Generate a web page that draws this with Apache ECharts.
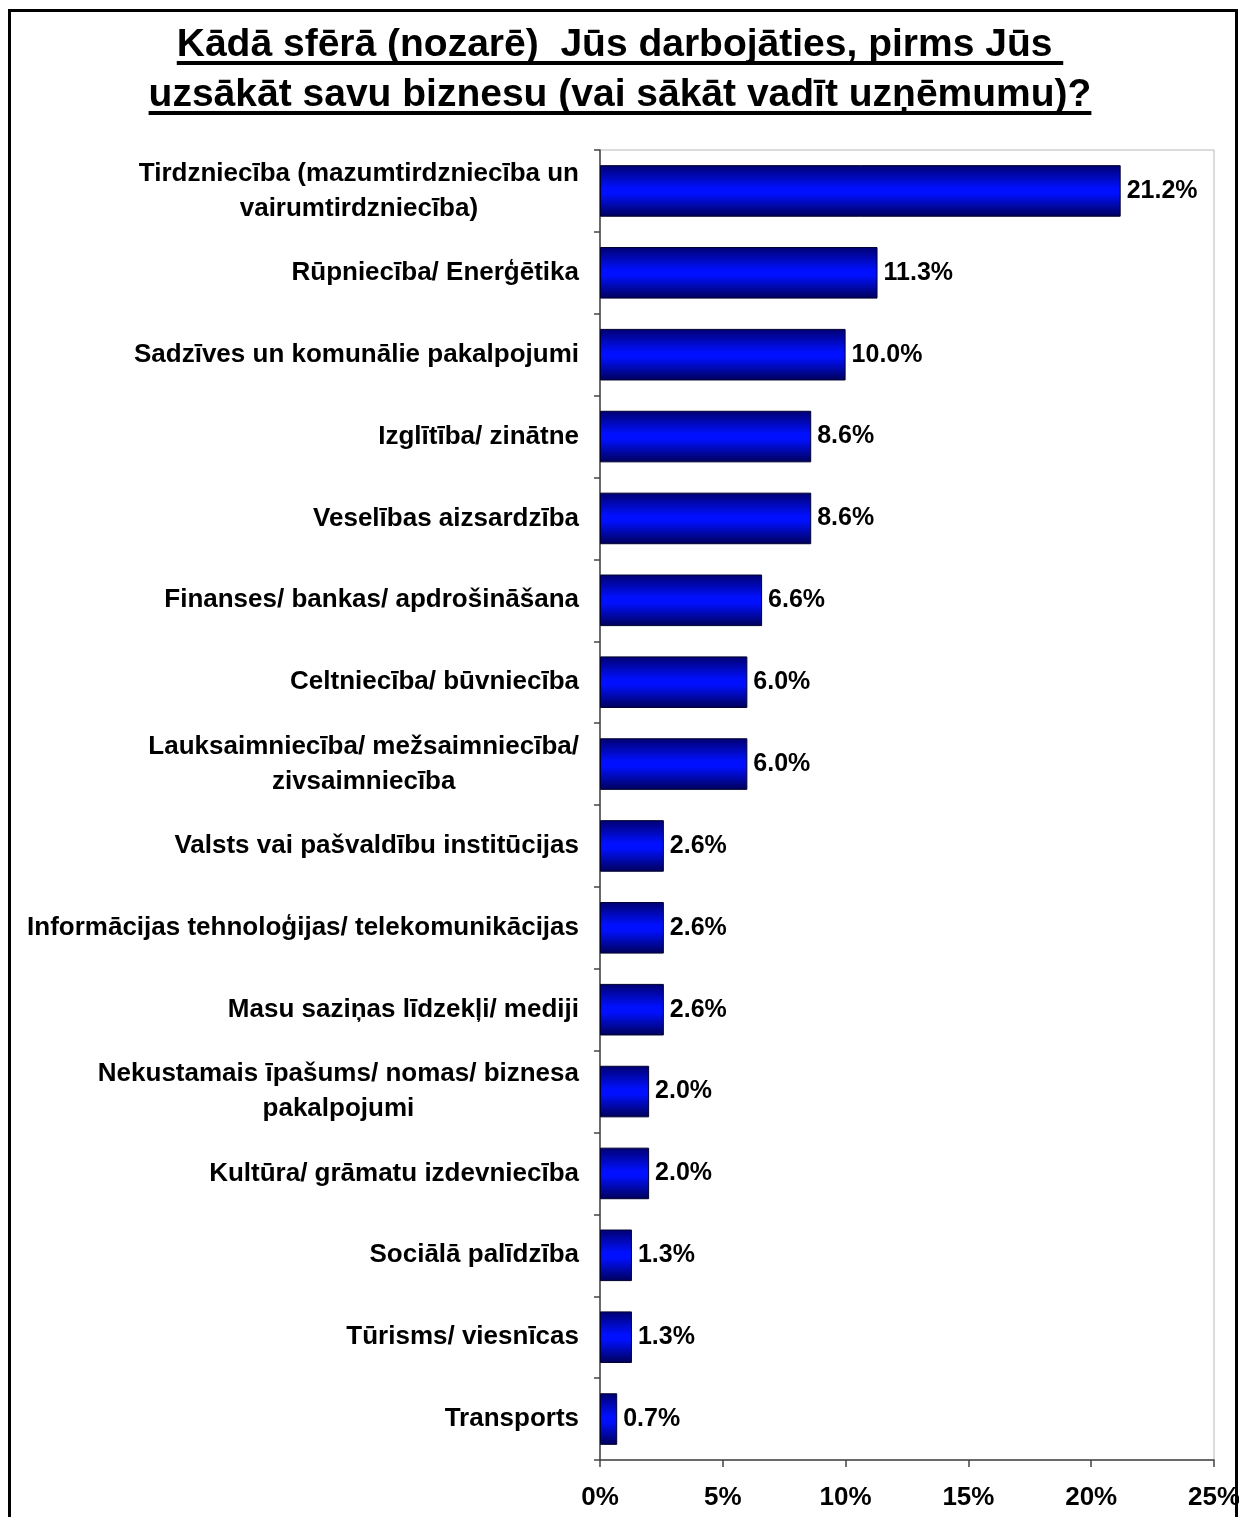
<!DOCTYPE html>
<html>
<head>
<meta charset="utf-8">
<script src="https://cdn.jsdelivr.net/npm/echarts@6/dist/echarts.min.js"></script>
<style>
html,body{margin:0;padding:0;background:#fff;}
#chart{width:1239px;height:1517px;}
</style>
</head>
<body>
<div id="chart"></div>
<script>
const titleLines = [
  'Kādā sfērā (nozarē)  Jūs darbojāties, pirms Jūs ',
  'uzsākāt savu biznesu (vai sākāt vadīt uzņēmumu)?'
];
const categories = [
  'Tirdzniecība (mazumtirdzniecība un\nvairumtirdzniecība)',
  'Rūpniecība/ Enerģētika',
  'Sadzīves un komunālie pakalpojumi',
  'Izglītība/ zinātne',
  'Veselības aizsardzība',
  'Finanses/ bankas/ apdrošināšana',
  'Celtniecība/ būvniecība',
  'Lauksaimniecība/ mežsaimniecība/\nzivsaimniecība',
  'Valsts vai pašvaldību institūcijas',
  'Informācijas tehnoloģijas/ telekomunikācijas',
  'Masu saziņas līdzekļi/ mediji',
  'Nekustamais īpašums/ nomas/ biznesa\npakalpojumi',
  'Kultūra/ grāmatu izdevniecība',
  'Sociālā palīdzība',
  'Tūrisms/ viesnīcas',
  'Transports'
];
const values = [21.2, 11.3, 10.0, 8.6, 8.6, 6.6, 6.0, 6.0, 2.6, 2.6, 2.6, 2.0, 2.0, 1.3, 1.3, 0.7];
const xTicks = { min: 0, max: 25, interval: 5 };

const FONT = '"Liberation Sans", Arial, sans-serif';
const titleSize = 39;
const cv = document.createElement('canvas').getContext('2d');
cv.font = 'bold ' + titleSize + 'px ' + FONT;

const cx = 620;
const titleY = [45, 95];
const graphics = [];
titleLines.forEach((t, i) => {
  const w = cv.measureText(t).width;
  graphics.push({
    type: 'text', x: cx, y: titleY[i], z: 10,
    style: { text: t, font: 'bold ' + titleSize + 'px ' + FONT, fill: '#000', align: 'center', verticalAlign: 'middle' }
  });
  graphics.push({
    type: 'rect', z: 10,
    shape: { x: cx - w / 2, y: titleY[i] + 16, width: w, height: 4 },
    style: { fill: '#000' }
  });
});
graphics.push({
  type: 'rect', z: 0,
  shape: { x: 9.5, y: 10.5, width: 1227, height: 1530 },
  style: { fill: 'none', stroke: '#000', lineWidth: 3 }
});

const chart = echarts.init(document.getElementById('chart'), null, { renderer: 'canvas' });
chart.setOption({
  backgroundColor: '#fff',
  animation: false,
  graphic: graphics,
  grid: { left: 600, right: 25, top: 150, bottom: 57, outerBoundsMode: 'none', containLabel: false, show: true, borderColor: '#b8b8b8', borderWidth: 1, backgroundColor: 'transparent' },
  xAxis: {
    type: 'value', min: xTicks.min, max: xTicks.max, interval: xTicks.interval,
    splitLine: { show: false },
    axisLine: { show: true, lineStyle: { color: '#444', width: 1.5 } },
    axisTick: { show: true, length: 7, lineStyle: { color: '#444', width: 1.5 } },
    axisLabel: { formatter: '{value}%', margin: 25, color: '#000', fontFamily: FONT, fontWeight: 'bold', fontSize: 26 }
  },
  yAxis: {
    type: 'category', data: categories, inverse: true,
    axisLine: { show: true, lineStyle: { color: '#444', width: 1.5 } },
    axisTick: { show: true, length: 6, lineStyle: { color: '#444', width: 1.5 } },
    axisLabel: {
      margin: 21, color: '#000', fontFamily: FONT, fontWeight: 'bold', fontSize: 26, lineHeight: 35, align: 'right',
      formatter: v => v.split('\n').map(l => '{c|' + l + '}').join('\n'),
      rich: { c: { align: 'center', fontFamily: FONT, fontWeight: 'bold', fontSize: 26, lineHeight: 35, color: '#000' } }
    }
  },
  series: [{
    type: 'bar', data: values, barCategoryGap: '37%',
    itemStyle: {
      color: new echarts.graphic.LinearGradient(0, 0, 0, 1, [
        { offset: 0, color: '#000070' },
        { offset: 0.45, color: '#0010ff' },
        { offset: 0.55, color: '#0010ff' },
        { offset: 1, color: '#000058' }
      ]),
      borderColor: '#000030', borderWidth: 1
    },
    label: {
      show: true, position: 'right', distance: 6, color: '#000', fontFamily: FONT, fontWeight: 'bold', fontSize: 25,
      formatter: p => p.value.toFixed(1) + '%'
    }
  }]
});
</script>
</body>
</html>
